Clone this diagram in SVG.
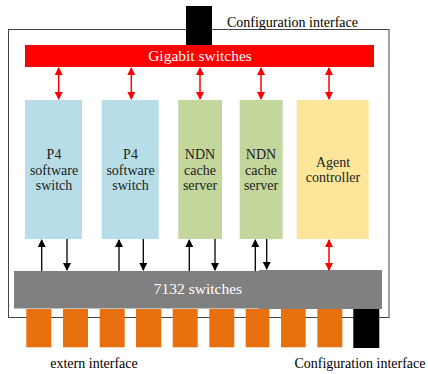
<svg xmlns="http://www.w3.org/2000/svg" width="428" height="374" viewBox="0 0 428 374">
<defs>
<marker id="ar" viewBox="0 0 8 8" refX="7" refY="4" markerWidth="8" markerHeight="8" markerUnits="userSpaceOnUse" orient="auto-start-reverse"><path d="M0,0 L8,4 L0,8 z" fill="#ff0000"/></marker>
<marker id="ak" viewBox="0 0 8 8" refX="7" refY="4" markerWidth="8" markerHeight="8" markerUnits="userSpaceOnUse" orient="auto"><path d="M0,0 L8,4 L0,8 z" fill="#000"/></marker>
</defs>
<style>
text{text-anchor:middle;font-family:"Times New Roman","Liberation Serif","DejaVu Serif",serif}
.lbl{font-size:14px;fill:#000}
.wt{font-size:15.5px;fill:#fff}
.box{font-size:14px;fill:#222}
.red{stroke:#ff0000;stroke-width:1.5;fill:none;marker-start:url(#ar);marker-end:url(#ar)}
.blk{stroke:#000;stroke-width:1.3;fill:none;marker-end:url(#ak)}
.port{fill:#e8700f}
</style>
<rect x="8.5" y="29.5" width="380.5" height="288" fill="#fff" stroke="#444" stroke-width="1"/>
<g id="config-top"><rect x="186" y="6" width="26" height="39" fill="#000"/></g>
<g id="gigabit"><rect x="25" y="45" width="349" height="22" fill="#ff0000"/><text class="wt" x="200" y="61">Gigabit switches</text></g>
<g id="p4-1"><rect x="25" y="100" width="57" height="139" fill="#b7dde8"/><text class="box" x="54" y="159">P4</text><text class="box" x="54" y="174.5">software</text><text class="box" x="54" y="190">switch</text></g>
<g id="p4-2"><rect x="101.7" y="100" width="57" height="139" fill="#b7dde8"/><text class="box" x="130.5" y="159">P4</text><text class="box" x="130.5" y="174.5">software</text><text class="box" x="130.5" y="190">switch</text></g>
<g id="ndn-1"><rect x="178.3" y="100" width="43.7" height="139" fill="#c3d69b"/><text class="box" x="200" y="159">NDN</text><text class="box" x="200" y="174.5">cache</text><text class="box" x="200" y="190">server</text></g>
<g id="ndn-2"><rect x="239.7" y="100" width="43" height="139" fill="#c3d69b"/><text class="box" x="261" y="159">NDN</text><text class="box" x="261" y="174.5">cache</text><text class="box" x="261" y="190">server</text></g>
<g id="agent"><rect x="296.7" y="100" width="72" height="139" fill="#fde59a"/><text class="box" x="333" y="166.5">Agent</text><text class="box" x="333" y="181.5">controller</text></g>
<g id="sw7132"><rect x="14" y="271" width="246" height="37.5" fill="#808080"/><rect x="259" y="270" width="123" height="39" fill="#808080"/><text class="wt" x="198" y="294">7132 switches</text></g>
<g id="ports">
<rect class="port" x="26.3" y="309" width="25" height="38.3"/>
<rect class="port" x="63" y="309" width="25" height="38.3"/>
<rect class="port" x="99.7" y="309" width="25" height="38.3"/>
<rect class="port" x="136" y="309" width="25.3" height="38.3"/>
<rect class="port" x="172.7" y="309" width="25" height="38.3"/>
<rect class="port" x="209.3" y="309" width="25" height="38.3"/>
<rect class="port" x="245.7" y="309" width="23.6" height="38.3"/>
<rect class="port" x="281" y="309" width="24.7" height="38.3"/>
<rect class="port" x="317.3" y="309" width="25" height="38.3"/>
</g>
<g id="config-bottom"><rect x="353.3" y="309" width="26" height="39" fill="#000"/></g>
<g id="connectors">
<line class="red" x1="58.7" y1="68" x2="58.7" y2="99"/>
<line class="red" x1="131.3" y1="68" x2="131.3" y2="99"/>
<line class="red" x1="200" y1="68" x2="200" y2="99"/>
<line class="red" x1="261" y1="68" x2="261" y2="99"/>
<line class="red" x1="329" y1="68" x2="329" y2="99"/>
<line class="red" x1="329" y1="240" x2="329" y2="270"/>
<line class="blk" x1="41.7" y1="271" x2="41.7" y2="240"/>
<line class="blk" x1="67" y1="239" x2="67" y2="270"/>
<line class="blk" x1="119" y1="271" x2="119" y2="240"/>
<line class="blk" x1="143.3" y1="239" x2="143.3" y2="270"/>
<line class="blk" x1="189.3" y1="271" x2="189.3" y2="240"/>
<line class="blk" x1="215" y1="239" x2="215" y2="270"/>
<line class="blk" x1="255.3" y1="271" x2="255.3" y2="240"/>
<line class="blk" x1="266.7" y1="239" x2="266.7" y2="269"/>
</g>
<text class="lbl" x="292.5" y="27">Configuration interface</text>
<text class="lbl" x="94" y="368">extern interface</text>
<text class="lbl" x="360" y="368">Configuration interface</text>
</svg>
